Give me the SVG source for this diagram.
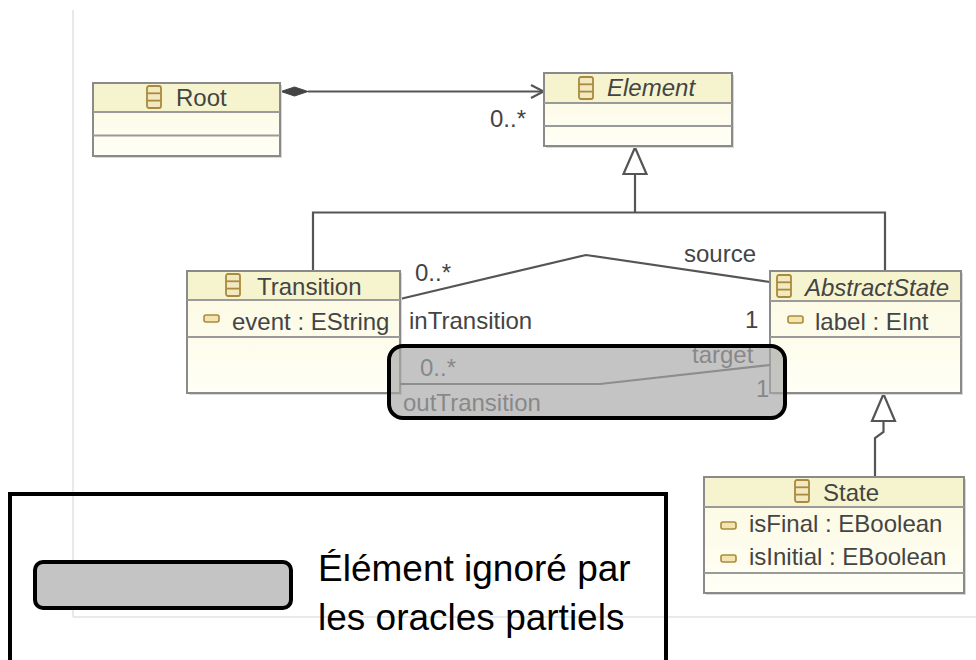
<svg xmlns="http://www.w3.org/2000/svg" width="976" height="660" viewBox="0 0 976 660">
<defs>
<style>
.box{fill:url(#body);stroke:#8a8a8a;stroke-width:2}
.shadow{fill:#d8d8d8}
.hdr{fill:#f6f4cf}
.sep{stroke:#9a9a9a;stroke-width:2}
.t{font-family:"Liberation Sans",Arial,sans-serif;font-size:24px;fill:#444}
.it{font-style:italic}
.icon{fill:#f3e9c0;stroke:#a98a3e;stroke-width:1.8}
.attr{fill:#f3e4b0;stroke:#a98a3e;stroke-width:1.6}
.edge{fill:none;stroke:#555;stroke-width:2.2}
.lbl{font-family:"Liberation Sans",Arial,sans-serif;font-size:24px;fill:#444}
.leg{font-family:"Liberation Sans",Arial,sans-serif;font-size:37px;fill:#000}
</style>
<linearGradient id="body" x1="0" y1="0" x2="0" y2="1">
<stop offset="0" stop-color="#fbf9df"/>
<stop offset="1" stop-color="#fffff6"/>
</linearGradient>
<symbol id="cls" viewBox="0 0 16 24" width="16" height="24">
<rect x="1" y="1" width="14" height="22" rx="2" class="icon"/>
<line x1="1" y1="8.3" x2="15" y2="8.3" stroke="#a98a3e" stroke-width="1.8"/>
<line x1="1" y1="15.6" x2="15" y2="15.6" stroke="#a98a3e" stroke-width="1.8"/>
</symbol>
</defs>
<rect width="976" height="660" fill="#fff"/>
<g id="frame" stroke="#e2e2e2" stroke-width="1.5" fill="none">
<line x1="73" y1="10" x2="73" y2="617"/>
<line x1="73" y1="617" x2="976" y2="617"/>
</g>

<g id="connectors">
<line class="edge" x1="308" y1="91.5" x2="543" y2="91.5"/>
<polygon points="281,91.5 294.5,87 308,91.5 294.5,96" fill="#444" stroke="#444" stroke-width="1"/>
<polyline class="edge" points="531,85 543.5,91.5 531,98"/>
<text class="lbl" x="490" y="127">0..*</text>
<polyline class="edge" points="313,271 313,212.5 885,212.5 885,271"/>
<line class="edge" x1="635" y1="212.5" x2="635" y2="174"/>
<polygon points="635,147.5 623.5,174 646.5,174" fill="#fff" stroke="#555" stroke-width="2.2"/>
<polyline class="edge" points="875,478 875,438 883.5,432 883.5,421"/>
<polygon points="883.5,394 872,421 895,421" fill="#fff" stroke="#555" stroke-width="2.2"/>
<polyline class="edge" points="400,299 586,255 770,282"/>
<text class="lbl" x="415" y="281">0..*</text>
<text class="lbl" x="684" y="262">source</text>
<text class="lbl" x="409" y="329">inTransition</text>
<text class="lbl" x="745" y="328">1</text>
</g>

<g id="Root">
<rect class="shadow" x="95" y="85" width="187" height="73"/>
<rect class="box" x="93" y="83" width="187" height="73"/>
<rect class="hdr" x="94" y="84" width="185" height="28"/>
<line class="sep" x1="93" y1="112" x2="280" y2="112"/>
<line class="sep" x1="93" y1="135.5" x2="280" y2="135.5"/>
<use href="#cls" x="146" y="85"/>
<text class="t" x="176" y="106">Root</text>
</g>

<g id="Element">
<rect class="shadow" x="546" y="75" width="188" height="73"/>
<rect class="box" x="544" y="73" width="188" height="73"/>
<rect class="hdr" x="545" y="74" width="186" height="29"/>
<line class="sep" x1="544" y1="103" x2="732" y2="103"/>
<line class="sep" x1="544" y1="126" x2="732" y2="126"/>
<use href="#cls" x="578" y="76"/>
<text class="t it" x="607" y="96">Element</text>
</g>

<g id="Transition">
<rect class="shadow" x="189" y="273" width="213" height="122"/>
<rect class="box" x="187" y="271" width="213" height="122"/>
<rect class="hdr" x="188" y="272" width="211" height="28"/>
<line class="sep" x1="187" y1="300" x2="400" y2="300"/>
<line class="sep" x1="187" y1="337" x2="400" y2="337"/>
<use href="#cls" x="225" y="273"/>
<text class="t" x="257" y="295">Transition</text>
<rect class="attr" x="204" y="315" width="15" height="7" rx="2"/>
<text class="t" x="232" y="330">event : EString</text>
</g>

<g id="AbstractState">
<rect class="shadow" x="772" y="273" width="191" height="122"/>
<rect class="box" x="770" y="271" width="191" height="122"/>
<rect class="hdr" x="771" y="272" width="189" height="29"/>
<line class="sep" x1="770" y1="301" x2="961" y2="301"/>
<line class="sep" x1="770" y1="337" x2="961" y2="337"/>
<use href="#cls" x="776" y="274"/>
<text class="t it" x="805" y="296">AbstractState</text>
<rect class="attr" x="788" y="316" width="15" height="7" rx="2"/>
<text class="t" x="815" y="330">label : EInt</text>
</g>

<g id="State">
<rect class="shadow" x="706" y="479" width="260" height="116"/>
<rect class="box" x="704" y="477" width="260" height="116"/>
<rect class="hdr" x="705" y="478" width="258" height="29"/>
<line class="sep" x1="704" y1="507" x2="964" y2="507"/>
<line class="sep" x1="704" y1="573" x2="964" y2="573"/>
<use href="#cls" x="794" y="479"/>
<text class="t" x="823" y="501">State</text>
<rect class="attr" x="721" y="522" width="15" height="7" rx="2"/>
<text class="t" x="749" y="532" font-size="22.6">isFinal : EBoolean</text>
<rect class="attr" x="721" y="555" width="15" height="7" rx="2"/>
<text class="t" x="749" y="565" font-size="22.6">isInitial : EBoolean</text>
</g>

<g id="outTransition">
<polyline class="edge" points="400,384 600,384 770,365"/>
<text class="lbl" x="420" y="376">0..*</text>
<text class="lbl" x="692" y="363">target</text>
<text class="lbl" x="756" y="397">1</text>
<text class="lbl" x="403" y="411">outTransition</text>
</g>

<g id="ignored">
<rect x="389" y="346" width="396" height="72" rx="14" fill="#a8a8a8" fill-opacity="0.68" stroke="#000" stroke-width="4"/>
</g>

<g id="legend">
<rect x="10" y="494" width="656" height="170" fill="none" stroke="#000" stroke-width="4"/>
<rect x="35" y="562" width="256" height="46" rx="8" fill="#c4c4c4" stroke="#000" stroke-width="4"/>
<text class="leg" x="318" y="581">Élément ignoré par</text>
<text class="leg" x="318" y="630">les oracles partiels</text>
</g>
</svg>
